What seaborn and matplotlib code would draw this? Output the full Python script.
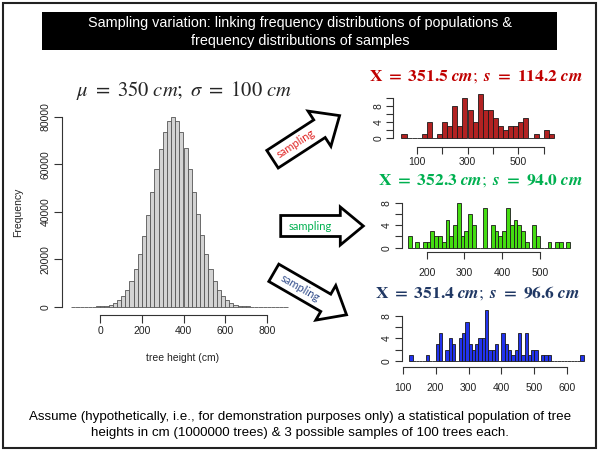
import numpy as np
import pandas as pd
import matplotlib
matplotlib.use("Agg")
import matplotlib.pyplot as plt
import seaborn as sns
from matplotlib.patches import Rectangle, Polygon

# ---------------- data ----------------
pop_bin_width = 20
pop_bin_left = list(range(-140, 900, 20))
pop_counts = [1, 2, 5, 12, 25, 55, 120, 240, 480, 890, 1580, 2720, 4480, 7100,
              10800, 15800, 22200, 29900, 38800, 48400, 57900, 66600, 73700,
              78200, 79800, 78200, 73600, 66700, 58000, 48300, 38900, 30000,
              22100, 15800, 10800, 7100, 4500, 2700, 1600, 880, 470, 240, 120,
              56, 24, 11, 5, 2, 1, 0, 1, 0]
pop_xticks = [0, 200, 400, 600, 800]
pop_yticks = [0, 20000, 40000, 60000, 80000]

red_bin_width = 20
red_bin_left = list(range(40, 640, 20))
red_counts = [1, 0, 0, 0, 1, 4, 0, 1, 4, 3, 8, 3, 10, 7, 4, 11, 7, 7, 5, 3,
              2, 3, 3, 4, 5, 0, 1, 0, 2, 1]
red_xticks = [100, 200, 300, 400, 500, 600]
red_xlabels = ["100", "", "300", "", "500", ""]
red_yticks = [0, 2, 4, 6, 8, 10]
red_ylabels = ["0", "", "4", "", "8", ""]

green_bin_width = 10
green_bin_left = list(range(150, 580, 10))
green_counts = [2, 0, 1, 0, 1, 1, 3, 2, 2, 1, 5, 2, 4, 8, 2, 3, 6, 4, 0, 0, 7,
                0, 4, 3, 2, 3, 7, 4, 5, 4, 3, 1, 0, 4, 2, 0, 0, 1, 0, 1, 1, 0, 1]
green_xticks = [200, 300, 400, 500]
green_xlabels = ["200", "300", "400", "500"]
green_yticks = [0, 2, 4, 6, 8]
green_ylabels = ["0", "", "4", "", "8"]

blue_bin_width = 10
blue_bin_left = list(range(120, 650, 10))
blue_counts = [1, 0, 0, 0, 0, 1, 0, 0, 3, 5, 0, 2, 4, 3, 0, 4, 5, 7, 3, 2, 3,
               4, 4, 9, 2, 2, 3, 0, 5, 3, 2, 1, 2, 5, 1, 5, 1, 2, 2, 0, 1, 1,
               1, 0, 0, 0, 0, 0, 0, 0, 0, 0, 1]
blue_xticks = [100, 200, 300, 400, 500, 600]
blue_xlabels = ["100", "200", "300", "400", "500", "600"]
blue_yticks = [0, 2, 4, 6, 8]
blue_ylabels = ["0", "", "4", "", "8"]

title_lines = "Sampling variation: linking frequency distributions of populations &\nfrequency distributions of samples"
caption = ("Assume (hypothetically, i.e., for demonstration purposes only) a statistical population of tree\n"
           "heights in cm (1000000 trees) & 3 possible samples of 100 trees each.")
pop_title = r"$\mu\ =\ 350\ cm;\ \sigma\ =\ 100\ cm$"


def sample_title(mean, sd):
    return (r"$\mathbf{X}\ \mathbf{=}\ \mathbf{" + mean + r"}\ \mathbfit{cm};\ \mathbfit{s}\ \mathbf{=}\ \mathbf{"
            + sd + r"}\ \mathbfit{cm}$")


red_title = sample_title("351.5", "114.2")
green_title = sample_title("352.3", "94.0")
blue_title = sample_title("351.4", "96.6")
arrow_word = "sampling"

# ---------------- style ----------------
sns.set_style("ticks")
plt.rcParams["font.family"] = ["Liberation Sans", "DejaVu Sans"]
plt.rcParams["mathtext.fontset"] = "stix"

W, H = 599, 450
fig = plt.figure(figsize=(W / 100, H / 100), dpi=100)


def fx(x):
    return x / W


def fy(y):
    return 1 - y / H


def T(x, y, s, **kw):
    return fig.text(fx(x), fy(y), s, **kw)


def panel(box, xref, yref):
    left, right, top, bottom = box
    ax = fig.add_axes([left / W, 1 - bottom / H, (right - left) / W, (bottom - top) / H])
    xv1, xp1, xv2, xp2 = xref
    yv1, yp1, yv2, yp2 = yref
    mx = lambda p: xv1 + (p - xp1) * (xv2 - xv1) / (xp2 - xp1)
    my = lambda p: yv1 + (p - yp1) * (yv2 - yv1) / (yp2 - yp1)
    return ax, (mx(left), mx(right)), (my(bottom), my(top))


def draw_hist(ax, lefts, counts, width, fill, edge, lw):
    df = pd.DataFrame({"center": np.array(lefts) + width / 2, "count": counts})
    edges = list(lefts) + [lefts[-1] + width]
    sns.histplot(data=df, x="center", weights="count", bins=edges, ax=ax,
                 color=fill, edgecolor=edge, linewidth=lw, alpha=1, stat="count")


def style(ax, xlim, ylim, xt, xl, yt, yl, size=7.5, tlen=5, xpad=2):
    ax.set_xlim(*xlim)
    ax.set_ylim(*ylim)
    ax.set_xticks(xt)
    ax.set_xticklabels(xl)
    ax.set_yticks(yt)
    ax.set_yticklabels(yl, rotation=90, va="center")
    ax.set_xlabel("")
    ax.set_ylabel("")
    for s in ["top", "right"]:
        ax.spines[s].set_visible(False)
    ax.spines["left"].set_bounds(yt[0], yt[-1])
    ax.spines["bottom"].set_bounds(xt[0], xt[-1])
    for s in ["left", "bottom"]:
        ax.spines[s].set_color("#333333")
        ax.spines[s].set_linewidth(0.8)
    ax.tick_params(length=tlen, width=0.8, color="#333333", labelsize=size, pad=2,
                   labelcolor="#222222")
    ax.tick_params(axis="x", pad=xpad)
    ax.patch.set_alpha(0)


# ---------------- population histogram ----------------
ax, xl_, yl_ = panel((62, 296, 105, 315), (0, 100.3, 800, 266.7), (0, 306.7, 80000, 116.7))
draw_hist(ax, pop_bin_left, pop_counts, pop_bin_width, "#D3D3D3", "#555555", 0.6)
style(ax, xl_, yl_, pop_xticks, [str(v) for v in pop_xticks], pop_yticks,
      [str(v) for v in pop_yticks], tlen=6)
T(18, 212, "Frequency", rotation=90, ha="center", va="center", fontsize=7.5, color="#222222")
T(183, 358, "tree height (cm)", ha="center", va="center", fontsize=7.5, color="#222222")
T(184, 91, pop_title, ha="center", va="center", fontsize=14.8)

# ---------------- red sample ----------------
ax, xl_, yl_ = panel((393.3, 562, 88, 147.3), (100, 416.7, 500, 518.3), (0, 138.3, 10, 98.3))
draw_hist(ax, red_bin_left, red_counts, red_bin_width, "#B22222", "#1a1a1a", 0.6)
style(ax, xl_, yl_, red_xticks, red_xlabels, red_yticks, red_ylabels)
T(476, 77, red_title, ha="center", va="center", fontsize=12.5, color="#C00000")

# ---------------- green sample ----------------
ax, xl_, yl_ = panel((401.7, 578, 196, 252.3), (200, 426.7, 500, 540), (0, 247.7, 8, 202.7))
draw_hist(ax, green_bin_left, green_counts, green_bin_width, "#44DD11", "#1a1a1a", 0.6)
style(ax, xl_, yl_, green_xticks, green_xlabels, green_yticks, green_ylabels, xpad=6.5)
T(481, 181, green_title, ha="center", va="center", fontsize=12.5, color="#00B050")

# ---------------- blue sample ----------------
ax, xl_, yl_ = panel((401.7, 591, 305, 367.3), (100, 402.7, 600, 567.3), (0, 360.7, 8, 316))
draw_hist(ax, blue_bin_left, blue_counts, blue_bin_width, "#2233EE", "#1a1a1a", 0.6)
style(ax, xl_, yl_, blue_xticks, blue_xlabels, blue_yticks, blue_ylabels, xpad=6)
T(478, 293, blue_title, ha="center", va="center", fontsize=12.5, color="#203864")


# ---------------- arrows ----------------
def block_arrow(tx, ty, ang, length, sw, hw, hl, tcolor):
    a = np.deg2rad(ang)
    d = np.array([np.cos(a), -np.sin(a)])
    n = np.array([np.sin(a), np.cos(a)])
    t = np.array([tx, ty])
    b = t + d * (length - hl)
    pts = [t + n * sw / 2, b + n * sw / 2, b + n * hw / 2, t + d * length,
           b - n * hw / 2, b - n * sw / 2, t - n * sw / 2]
    pts = [(fx(p[0]), fy(p[1])) for p in pts]
    fig.patches.append(Polygon(pts, closed=True, transform=fig.transFigure,
                               facecolor="white", edgecolor="black", linewidth=2,
                               joinstyle="miter"))
    c = t + d * (length - hl) / 2
    T(c[0], c[1], arrow_word, rotation=ang, ha="center", va="center",
      rotation_mode="anchor", fontsize=8, color=tcolor, family=["Lato", "DejaVu Sans"])


block_arrow(272.5, 159.2, 33, 80, 21, 42, 24, "#E02020")
block_arrow(280.7, 226, 0, 82.6, 21, 38, 23, "#00B050")
block_arrow(273.8, 272.8, -30, 84, 20, 40, 24, "#2E4A8A")

# ---------------- title box, caption and frame ----------------
fig.patches.append(Rectangle((fx(42), fy(50)), (557 - 42) / W, 38 / H,
                             transform=fig.transFigure, facecolor="black", edgecolor="none"))
T(300, 32, title_lines, ha="center", va="center", fontsize=10.4, color="white",
  linespacing=1.3)
T(300, 425, caption, ha="center", va="center", fontsize=9.6, color="black",
  linespacing=1.45)
fig.patches.append(Rectangle((fx(3), fy(448)), (596 - 3) / W, (448 - 3) / H,
                             transform=fig.transFigure, facecolor="none",
                             edgecolor="#222222", linewidth=1.5))

fig.savefig("out.png", dpi=100)
